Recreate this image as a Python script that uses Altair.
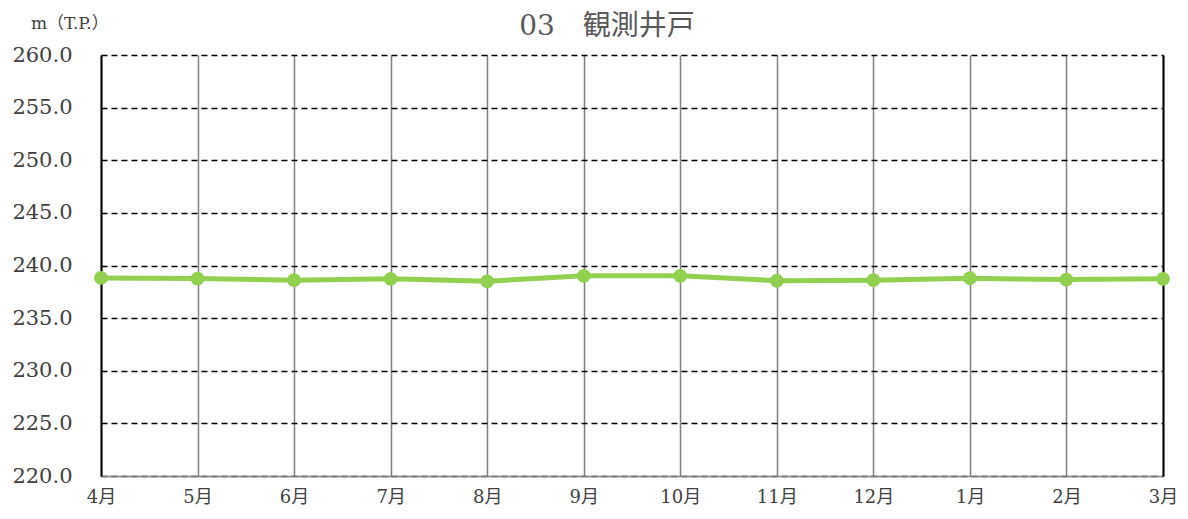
import altair as alt
import pandas as pd

months = ["4月", "5月", "6月", "7月", "8月", "9月", "10月", "11月", "12月", "1月", "2月", "3月"]
levels = [238.82, 238.76, 238.60, 238.73, 238.50, 239.02, 239.02, 238.55, 238.60, 238.79, 238.66, 238.73]
y_ticks = [220, 225, 230, 235, 240, 245, 250, 255, 260]
title_text = "03　観測井戸"
unit_text = "m（T.P.）"

SERIF = "DejaVu Serif, Noto Sans CJK JP"
df = pd.DataFrame({"month": months, "level": levels})

x_enc = alt.X(
    "month:N",
    sort=months,
    scale=alt.Scale(type="point", padding=0),
    axis=alt.Axis(
        title=None,
        ticks=False,
        labelPadding=12,
        labelFont=SERIF,
        labelFontSize=18,
        labelColor="#404040",
        labelAngle=0,
        domainColor="#808080",
        domainWidth=1.5,
        grid=True,
        gridColor="#808080",
        gridWidth=1.5,
    ),
)
y_scale = alt.Scale(domain=[220, 260], nice=False, zero=False)

base = alt.Chart(df)

line = base.mark_line(color="#92D050", strokeWidth=5).encode(
    x=x_enc,
    y=alt.Y(
        "level:Q",
        scale=y_scale,
        axis=alt.Axis(
            title=None,
            values=y_ticks,
            format=".1f",
            ticks=False,
            labelPadding=29,
            labelFont=SERIF,
            labelFontSize=21,
            labelColor="#404040",
            domainColor="#000000",
            domainWidth=2,
            grid=True,
            gridColor="#000000",
            gridDash=[6, 4],
            gridWidth=1.3,
        ),
    ),
)

points = base.mark_circle(color="#92D050", size=190, opacity=1).encode(
    x=alt.X("month:N", sort=months),
    y=alt.Y(
        "level:Q",
        scale=y_scale,
        axis=alt.Axis(
            orient="right",
            title=None,
            labels=False,
            ticks=False,
            grid=False,
            domainColor="#000000",
            domainWidth=2,
        ),
    ),
)

title = alt.Chart(pd.DataFrame({"t": [title_text]})).mark_text(
    font=SERIF, fontSize=28, color="#595959", align="center", baseline="alphabetic"
).encode(text="t:N", x=alt.value(506), y=alt.value(-20))

unit = alt.Chart(pd.DataFrame({"t": [unit_text]})).mark_text(
    font=SERIF, fontSize=17, color="#404040", align="left", baseline="middle"
).encode(text="t:N", x=alt.value(-70), y=alt.value(-31))

chart = (
    alt.layer(line, points, title, unit)
    .resolve_axis(y="independent")
    .properties(
        width=1062,
        height=421,
        autosize=alt.AutoSizeParams(type="none"),
        padding={"left": 93, "top": 47, "right": 17, "bottom": 35},
        background="white",
    )
    .configure_view(stroke=None)
)

chart.save("out.html", embed_options={"renderer": "svg", "actions": False})
